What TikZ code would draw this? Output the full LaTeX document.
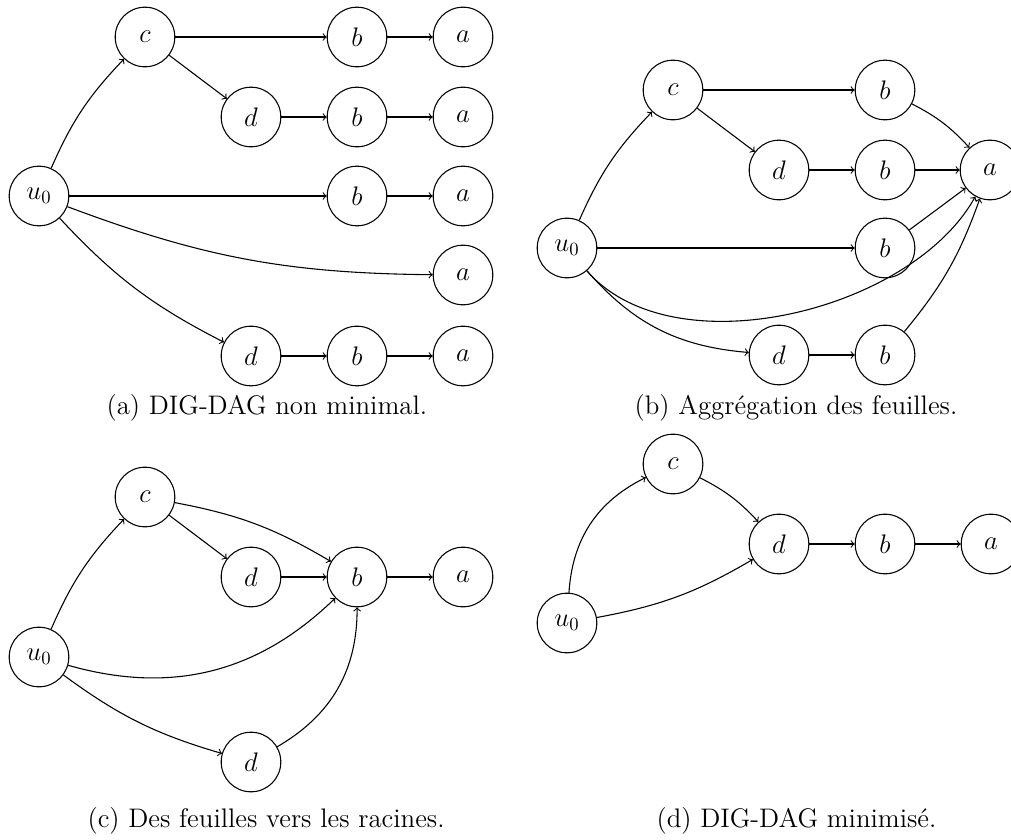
\documentclass[tikz,border=0pt]{standalone}
\begin{document}
\begin{tikzpicture}[x=0.53684pt,y=-0.53684pt,line width=0.58pt,
  v/.style={circle,draw,minimum size=32pt,inner sep=0pt,font=\Large},
  e/.style={->},
  captxt/.style={anchor=base west,inner sep=0pt,font=\Large}]
\useasboundingbox (0,0) rectangle (1011,839);
% ---------- (a)
\node[v] (au) at (39,196) {$u_0$};
\node[v] (ac) at (145,37) {$c$};
\node[v] (ab1) at (357,37) {$b$};
\node[v] (aa1) at (463,37) {$a$};
\node[v] (ad2) at (251,117) {$d$};
\node[v] (ab2) at (357,117) {$b$};
\node[v] (aa2) at (463,117) {$a$};
\node[v] (ab3) at (357,196) {$b$};
\node[v] (aa3) at (463,196) {$a$};
\node[v] (aa4) at (463,275) {$a$};
\node[v] (ad5) at (251,356) {$d$};
\node[v] (ab5) at (357,356) {$b$};
\node[v] (aa5) at (463,356) {$a$};
\draw[e] (au) to[bend left=10] (ac);
\draw[e] (ac) -- (ab1);
\draw[e] (ab1) -- (aa1);
\draw[e] (ac) -- (ad2);
\draw[e] (ad2) -- (ab2);
\draw[e] (ab2) -- (aa2);
\draw[e] (au) -- (ab3);
\draw[e] (ab3) -- (aa3);
\draw[e] (au) to[bend right=10] (aa4);
\draw[e] (au) to[bend right=10] (ad5);
\draw[e] (ad5) -- (ab5);
\draw[e] (ab5) -- (aa5);
\node[captxt] (capa) at (106,414) {(a) DIG-DAG non minimal.};
% ---------- (b)
\node[v] (bu) at (567,248) {$u_0$};
\node[v] (bc) at (673,90) {$c$};
\node[v] (bb1) at (885,90) {$b$};
\node[v] (bd2) at (779,170) {$d$};
\node[v] (bb2) at (885,170) {$b$};
\node[v] (ba) at (990,170) {$a$};
\node[v] (bb3) at (885,248) {$b$};
\node[v] (bd5) at (779,355) {$d$};
\node[v] (bb5) at (885,355) {$b$};
\draw[e] (bu) to[bend left=10] (bc);
\draw[e] (bc) -- (bb1);
\draw[e] (bc) -- (bd2);
\draw[e] (bd2) -- (bb2);
\draw[e] (bb2) -- (ba);
\draw[e] (bb1) to[bend left=10] (ba);
\draw[e] (bb3) -- (ba);
\draw[e] (bu) -- (bb3);
\draw[e] (bu) to[out=-49,in=-119,looseness=0.85] (ba);
\draw[e] (bu) to[bend right=22] (bd5);
\draw[e] (bd5) -- (bb5);
\draw[e] (bb5) to[bend right=10] (ba);
\node[captxt] (capb) at (634,414) {(b) Aggrégation des feuilles.};
% ---------- (c)
\node[v] (cc) at (145,497) {$c$};
\node[v] (cd) at (251,577) {$d$};
\node[v] (cb) at (357,577) {$b$};
\node[v] (ca) at (463,577) {$a$};
\node[v] (cu) at (39,657) {$u_0$};
\node[v] (cd2) at (251,762) {$d$};
\draw[e] (cu) to[bend left=10] (cc);
\draw[e] (cc) -- (cd);
\draw[e] (cc) to[bend left=10] (cb);
\draw[e] (cd) -- (cb);
\draw[e] (cb) -- (ca);
\draw[e] (cu) to[bend right=30] (cb);
\draw[e] (cu) to[bend right=10] (cd2);
\draw[e] (cd2) to[bend right=30] (cb);
\node[captxt] (capc) at (87,827) {(c) Des feuilles vers les racines.};
% ---------- (d)
\node[v] (dc) at (673,464) {$c$};
\node[v] (dd) at (779,544) {$d$};
\node[v] (db) at (885,544) {$b$};
\node[v] (da) at (991,544) {$a$};
\node[v] (du) at (567,623) {$u_0$};
\draw[e] (du) to[bend left=30] (dc);
\draw[e] (dc) to[bend left=10] (dd);
\draw[e] (du) to[bend right=10] (dd);
\draw[e] (dd) -- (db);
\draw[e] (db) -- (da);
\node[captxt] (capd) at (656,827) {(d) DIG-DAG minimisé.};
\end{tikzpicture}
\end{document}
